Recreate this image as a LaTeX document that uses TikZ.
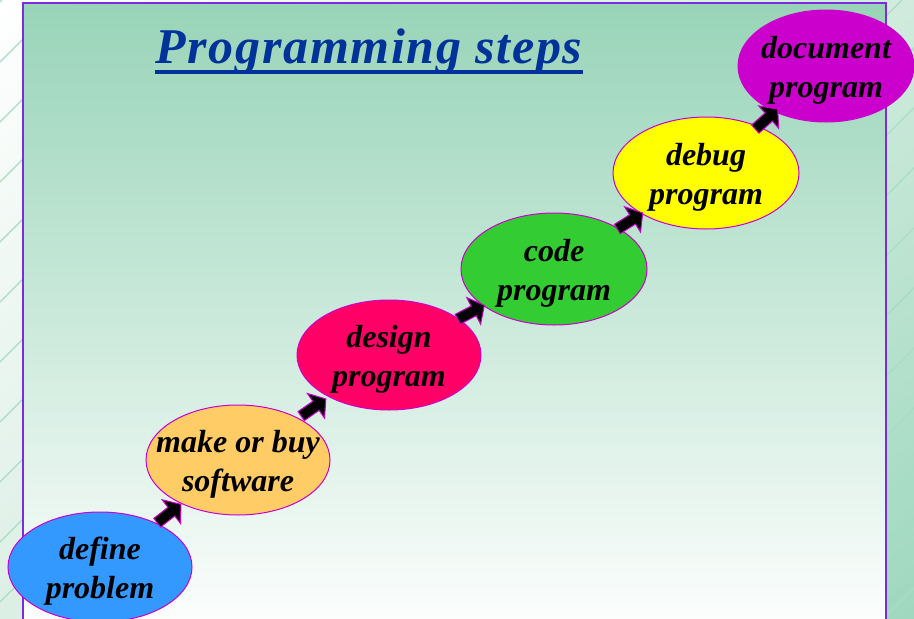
\documentclass[tikz,border=0pt]{standalone}
\usepackage{fontspec}
\setmainfont{Liberation Serif}
\usetikzlibrary{shapes.geometric,calc,shadings}
\definecolor{mag}{HTML}{CC00CC}
\definecolor{frameC}{HTML}{7B2BE0}
\definecolor{titleC}{HTML}{003399}
\definecolor{greenTop}{HTML}{98D4B8}
\definecolor{stripe}{HTML}{A8DCC4}
\definecolor{bgUR}{HTML}{D0EBDD}
\definecolor{bgLL}{HTML}{DCEFE5}
\definecolor{bgLR}{HTML}{9ED8BE}
\definecolor{cBlue}{HTML}{3399FF}
\definecolor{cOrange}{HTML}{FFCC66}
\definecolor{cRose}{HTML}{FF0066}
\definecolor{cGreen}{HTML}{33CC33}
\definecolor{cYellow}{HTML}{FFFF00}
\definecolor{cPurple}{HTML}{CC00CC}
\tikzset{
  stepell/.style={ellipse, draw=mag, line width=1pt, minimum width=184pt, minimum height=110pt, inner sep=0pt},
  lbl/.style={font=\fontsize{32}{39}\selectfont\bfseries\itshape, align=center, text=black, inner sep=0pt, yshift=-4pt},
  blockarr/.style={fill=black, draw=mag, line width=1pt, line join=miter},
}
\newcommand\blockarrow[2]{%
  \path (#1) -- (#2) coordinate[pos=.5] (m) coordinate[pos=1] (bb);
  \coordinate (t) at ($(m)!15pt!(#1.center)$);
  \coordinate (h) at ($(m)!15pt!(bb)$);
  \coordinate (c) at ($(m)!3pt!(bb)$);
  \draw[blockarr] ($(t)!5.5pt!90:(h)$) -- ($(c)!5.5pt!90:(h)$) -- ($(c)!15pt!90:(h)$) -- (h)
     -- ($(c)!15pt!-90:(h)$) -- ($(c)!5.5pt!-90:(h)$) -- ($(t)!5.5pt!-90:(h)$) -- cycle;
}
\begin{document}
\begin{tikzpicture}[x=1pt,y=-1pt]
\useasboundingbox (0,0) rectangle (914,619);
% outside background
\shade[upper left=white, upper right=bgUR, lower left=bgLL, lower right=bgLR]
  (0,0) rectangle (914,619);
\begin{scope}
  \clip (0,0) rectangle (23,619) (886,0) rectangle (914,619);
  \foreach \k in {2,62,...,1562} \draw[stripe, line width=1.2pt] (0,\k) -- (\k,0);
\end{scope}
% frame
\shade[top color=greenTop, bottom color=white] (23,3) rectangle (886,640);
\draw[frameC, line width=2pt] (23,640) -- (23,3) -- (886,3) -- (886,640);
% title
\node[font=\fontsize{50}{60}\selectfont\bfseries\itshape\addfontfeature{LetterSpace=3.4}, text=titleC, anchor=base, inner sep=0pt]
  (title) at (369,63) {Programming steps};
\draw[titleC, line width=4pt] ([yshift=-9pt]title.base west) -- ([yshift=-9pt]title.base east);
% steps
\node[stepell, fill=cBlue]   (e1) at (100,567) {};
\node[stepell, fill=cOrange] (e2) at (238,460) {};
\node[stepell, fill=cRose]   (e3) at (389,355) {};
\node[stepell, fill=cGreen, minimum width=186pt, minimum height=112pt]  (e4) at (554,269) {};
\node[stepell, fill=cYellow, minimum width=186pt, minimum height=112pt] (e5) at (706,173) {};
\node[stepell, fill=cPurple, minimum width=176pt, minimum height=112pt] (e6) at (826,66) {};
\node[lbl] (t1) at (e1.center) {define\\problem};
\node[lbl] (t2) at (e2.center) {make or buy\\software};
\node[lbl] (t3) at (e3.center) {design\\program};
\node[lbl] (t4) at (e4.center) {code\\program};
\node[lbl] (t5) at (e5.center) {debug\\program};
\node[lbl] (t6) at (e6.center) {document\\program};
% arrows
\blockarrow{e1}{e2}
\blockarrow{e2}{e3}
\blockarrow{e3}{e4}
\blockarrow{e4}{e5}
\blockarrow{e5}{e6}
\end{tikzpicture}
\end{document}
